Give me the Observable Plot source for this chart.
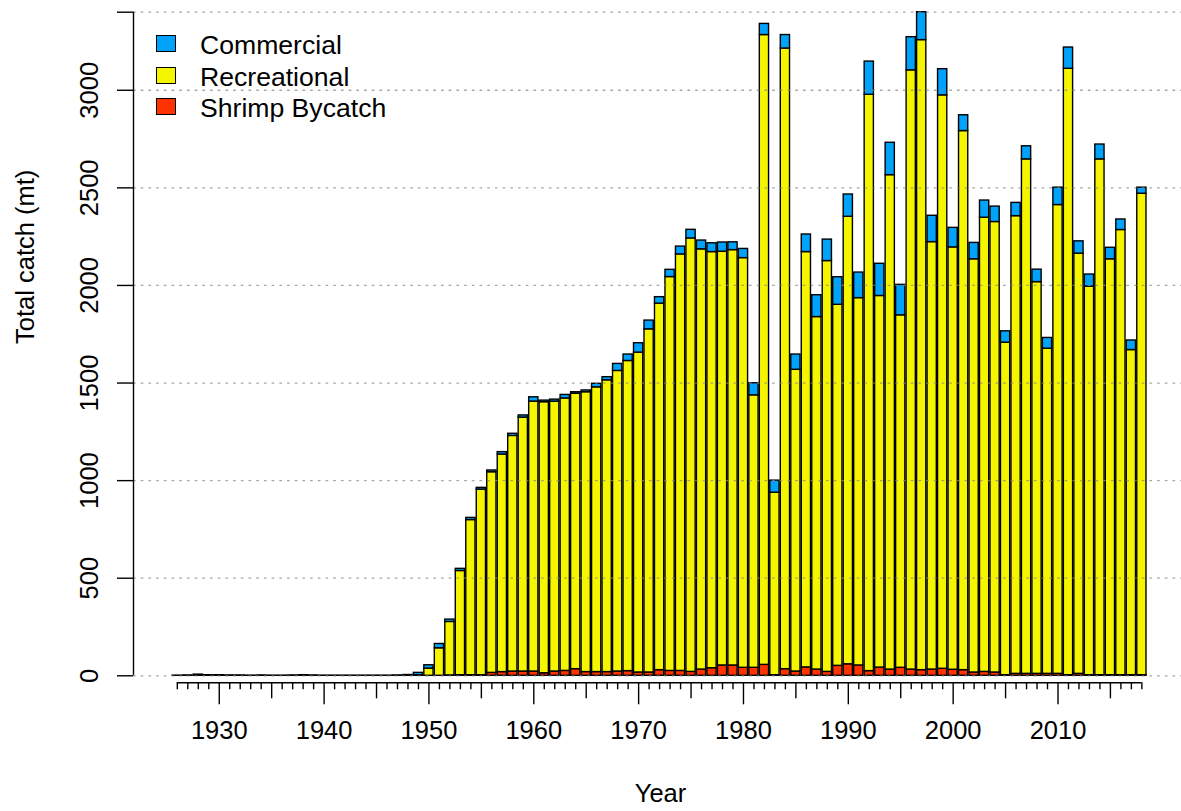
<!DOCTYPE html>
<html>
<head>
<meta charset="utf-8">
<script src="https://cdn.jsdelivr.net/npm/d3@7"></script>
<script src="https://cdn.jsdelivr.net/npm/@observablehq/plot@0.6"></script>
<style>
  body { margin: 0; background: #fff; }
  #wrap { position: relative; width: 1181px; height: 811px; font-family: "Liberation Sans", Arial, sans-serif; }
  #legend { position: absolute; left: 0; top: 0; }
  .item { position: absolute; left: 156px; height: 32px; display: flex; align-items: center; white-space: nowrap; font-size: 26.6px; color: #000; }
  .box { box-sizing: border-box; width: 20px; height: 17px; border: 1.4px solid #000; margin-right: 24px; }
  .lab { position: relative; top: 2px; }
</style>
</head>
<body>
<div id="wrap"><div id="legend"></div></div>
<script>
const years = [1926,1927,1928,1929,1930,1931,1932,1933,1934,1935,1936,1937,1938,1939,1940,1941,1942,1943,1944,1945,1946,1947,1948,1949,
  1950,1951,1952,1953,1954,1955,1956,1957,1958,1959,1960,1961,1962,1963,1964,1965,1966,1967,1968,1969,
  1970,1971,1972,1973,1974,1975,1976,1977,1978,1979,1980,1981,1982,1983,1984,1985,1986,1987,1988,1989,
  1990,1991,1992,1993,1994,1995,1996,1997,1998,1999,2000,2001,2002,2003,2004,2005,2006,2007,2008,2009,
  2010,2011,2012,2013,2014,2015,2016,2017,2018];

const commercial = [1,2,6,3,3,2,2,1,2,1,1,2,3,2,1,1,1,1,1,1,1,2,4,12,
  17,22,12,11,11,9,9,12,11,11,22,8,10,18,8,9,18,16,36,33,
  48,45,33,37,40,44,45,45,47,40,47,62,57,62,69,78,90,112,110,141,
  114,131,170,165,166,156,170,143,135,134,100,81,84,88,79,58,68,67,64,55,
  89,109,63,62,76,59,54,49,31];

const recreational = [0,0,0,0,0,0,0,0,0,0,0,0,0,0,0,0,0,0,0,0,0,0,0,3,
  37,141,274,534,795,951,1028,1115,1207,1301,1383,1389,1383,1396,1411,1434,1459,1495,1540,1589,
  1639,1758,1878,2018,2134,2221,2153,2132,2120,2128,2099,1396,3227,935,3180,1546,2128,1806,2105,1850,
  2293,1882,2953,1904,2533,1806,3070,3228,2190,2938,2164,2762,2117,2327,2308,1704,2345,2636,2007,1666,
  2402,3107,2153,1991,2643,2131,2281,1666,2467];

const shrimp = [0,0,0,0,0,0,0,0,0,0,0,0,0,0,0,0,0,0,0,0,0,0,0,0,
  0,0,2,3,3,3,15,19,22,22,22,13,22,25,34,19,19,19,22,24,
  17,17,29,25,25,20,32,39,53,53,41,41,56,3,34,22,43,32,20,51,
  59,53,24,42,32,41,32,29,32,36,31,29,17,20,17,3,10,10,10,10,
  10,3,10,3,3,3,3,3,3];

const seriesNames = ["Commercial", "Recreational", "Shrimp Bycatch"];
const seriesColors = ["#00a2fa", "#f5f500", "#ff3300"];
const stackOrder = ["Shrimp Bycatch", "Recreational", "Commercial"];
const yMax = 3400;
const yGrid = [0, 500, 1000, 1500, 2000, 2500, 3000, 3400];
const yLabels = [0, 500, 1000, 1500, 2000, 2500, 3000];
const xLabels = [1930, 1940, 1950, 1960, 1970, 1980, 1990, 2000, 2010];
const xDomain = [1921.82, 2021.78];

const rows = [];
years.forEach((yr, i) => {
  rows.push({year: yr, type: "Shrimp Bycatch", value: shrimp[i]});
  rows.push({year: yr, type: "Recreational", value: recreational[i]});
  rows.push({year: yr, type: "Commercial", value: commercial[i]});
});

const minorYears = years.filter(y => y % 5 !== 0);
const midYears = years.filter(y => y % 5 === 0 && y % 10 !== 0);
const decadeYears = years.filter(y => y % 10 === 0);

const FS = 25.5;
const chart = Plot.plot({
  width: 1181,
  height: 811,
  marginLeft: 133,
  marginRight: 0,
  marginTop: 11.7,
  marginBottom: 128.7,
  style: {fontFamily: "'Liberation Sans', Arial, sans-serif", fontSize: FS + "px", background: "white", color: "black"},
  x: {domain: xDomain},
  y: {domain: [0, yMax], range: [675.3, 11.7]},
  color: {domain: seriesNames, range: seriesColors},
  marks: [
    Plot.rectY(rows, {
      x1: d => d.year - 0.44,
      x2: d => d.year + 0.44,
      y: "value",
      fill: "type",
      order: stackOrder,
      stroke: "black",
      strokeWidth: 1.4
    }),
    Plot.ruleY(yGrid, {stroke: "#8a8a8a", strokeOpacity: 0.75, strokeWidth: 1.3, strokeDasharray: "2.7,5"}),
    Plot.ruleX([xDomain[0]], {y1: 0, y2: yMax, stroke: "black", strokeWidth: 1.4}),
    Plot.axisY(yGrid, {tickSize: 16, tickFormat: () => "", label: null, strokeWidth: 1.4}),
    Plot.text(yLabels, {y: d => d, text: d => String(d), frameAnchor: "left", dx: -36, rotate: -90, textAnchor: "middle", lineAnchor: "bottom", fontSize: FS}),
    Plot.ruleY([0], {x1: years[0], x2: years[years.length - 1], dy: 7, stroke: "black", strokeWidth: 1.4}),
    Plot.axisX(minorYears, {tickSize: 7, tickFormat: () => "", label: null, strokeWidth: 1.4}),
    Plot.axisX(midYears, {tickSize: 16, tickFormat: () => "", label: null, strokeWidth: 1.4}),
    Plot.axisX(decadeYears, {tickSize: 22, tickFormat: () => "", label: null, strokeWidth: 1.4}),
    Plot.text(xLabels, {x: d => d, text: d => String(d), frameAnchor: "bottom", dy: 37.7, lineAnchor: "top", fontSize: FS}),
    Plot.text(["Year"], {text: d => d, frameAnchor: "bottom", dx: 3, dy: 118.7, lineAnchor: "bottom", fontSize: FS}),
    Plot.text(["Total catch (mt)"], {text: d => d, frameAnchor: "left", dx: -100, dy: -3.5, rotate: -90, lineAnchor: "bottom", fontSize: FS})
  ]
});
document.getElementById("wrap").insertBefore(chart, document.getElementById("legend"));

const legend = document.getElementById("legend");
const centers = [43.3, 75, 106.7];
seriesNames.forEach((name, i) => {
  const item = document.createElement("div");
  item.className = "item";
  item.style.top = (centers[i] - 16) + "px";
  const box = document.createElement("span");
  box.className = "box";
  box.style.background = seriesColors[i];
  const lab = document.createElement("span");
  lab.className = "lab";
  lab.textContent = name;
  item.appendChild(box);
  item.appendChild(lab);
  legend.appendChild(item);
});
</script>
</body>
</html>
